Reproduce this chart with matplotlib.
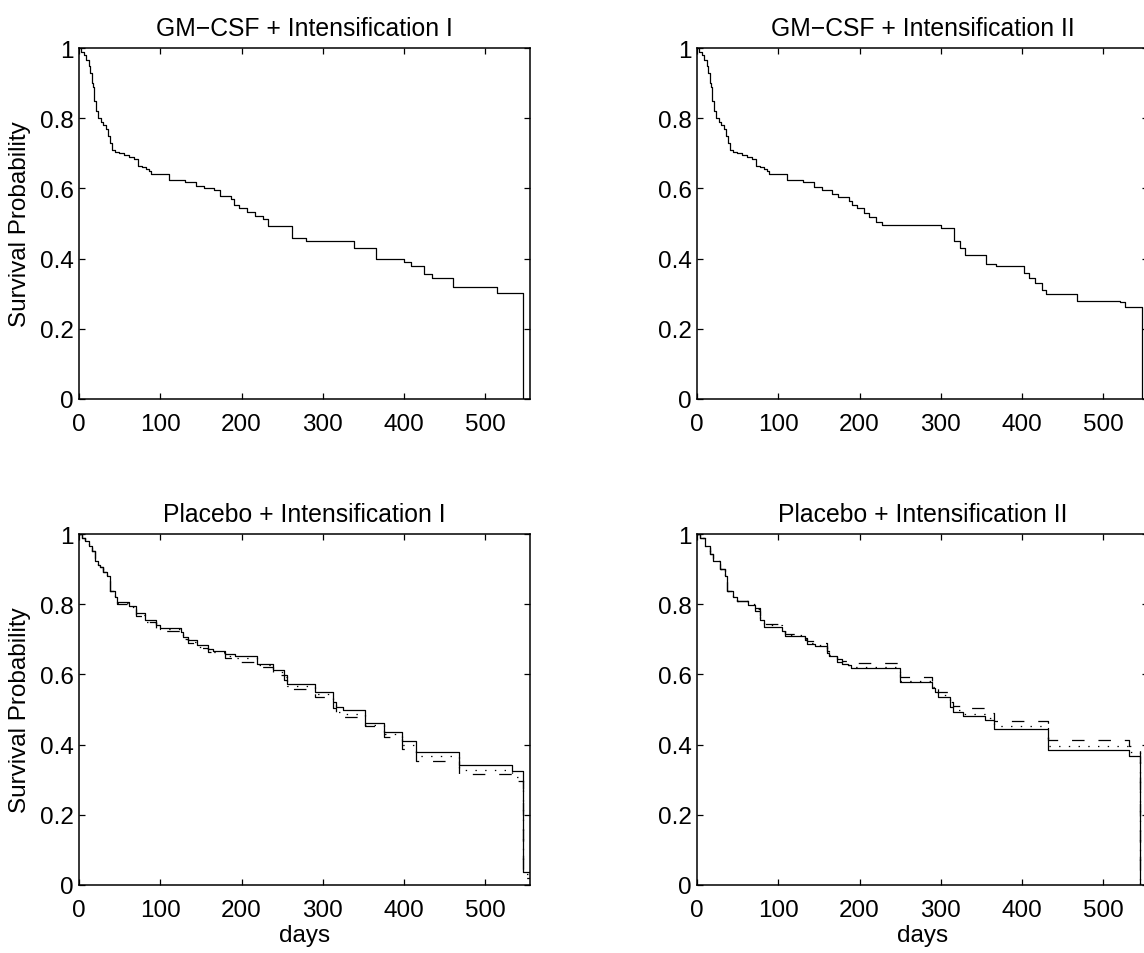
import matplotlib.pyplot as plt

plt.rcParams['font.family'] = ['Liberation Sans', 'DejaVu Sans']
plt.rcParams['lines.scale_dashes'] = False

# GM-CSF + Intensification I
t_gm1 = [0, 3, 6, 9, 12, 14, 16, 17, 18.5, 20.5, 23, 27, 30, 33, 36, 38, 41, 44, 49, 55, 62, 68, 72,
         78, 82, 86, 88, 111, 131, 144, 154, 166, 174, 187, 191, 197, 207, 217, 226, 232, 262, 279,
         339, 365, 400, 408, 425, 435, 460, 515, 547, 555]
s_gm1 = [1.0, 0.99, 0.98, 0.965, 0.95, 0.93, 0.90, 0.89, 0.85, 0.82, 0.80, 0.79, 0.78, 0.77, 0.75,
         0.73, 0.71, 0.705, 0.70, 0.695, 0.69, 0.685, 0.665, 0.66, 0.655, 0.65, 0.64, 0.625, 0.617,
         0.608, 0.60, 0.595, 0.578, 0.57, 0.552, 0.543, 0.534, 0.522, 0.513, 0.494, 0.459, 0.45,
         0.429, 0.40, 0.389, 0.378, 0.356, 0.344, 0.318, 0.303, 0.0, 0.0]

# GM-CSF + Intensification II
t_gm2 = [0, 3, 6, 9, 12, 14, 16, 17, 18.5, 20.5, 23, 27, 30, 33, 36, 38, 41, 44, 49, 55, 62, 68, 72,
         78, 82, 86, 88, 111, 131, 144, 154, 166, 174, 187, 191, 197, 205, 212, 220, 228, 300, 316,
         324, 330, 356, 368, 402, 408, 416, 424, 430, 468, 520, 527, 548, 555]
s_gm2 = [1.0, 0.99, 0.98, 0.965, 0.95, 0.93, 0.90, 0.89, 0.85, 0.82, 0.80, 0.79, 0.78, 0.77, 0.75,
         0.73, 0.71, 0.705, 0.70, 0.695, 0.69, 0.685, 0.665, 0.66, 0.655, 0.65, 0.64, 0.625, 0.617,
         0.605, 0.595, 0.585, 0.575, 0.565, 0.552, 0.543, 0.53, 0.518, 0.505, 0.495, 0.488, 0.45,
         0.43, 0.41, 0.385, 0.38, 0.36, 0.345, 0.33, 0.31, 0.30, 0.28, 0.275, 0.262, 0.0, 0.0]

# Placebo + Intensification I (solid, dotted, dashed)
t_pl1 = [0, 4, 7.4, 12, 15.6, 19.7, 23, 25.9, 30, 34, 38, 44, 47, 62, 70, 81, 95, 100, 126, 128,
         134, 145, 159, 165, 180, 192, 219, 239, 252, 256, 291, 313, 316, 325, 352, 375, 397, 415,
         468, 533, 546, 555]
s_pl1_a = [1.0, 0.99, 0.98, 0.965, 0.952, 0.924, 0.912, 0.905, 0.893, 0.881, 0.839, 0.82, 0.806,
           0.795, 0.775, 0.754, 0.74, 0.731, 0.72, 0.706, 0.697, 0.683, 0.673, 0.667, 0.657, 0.652,
           0.631, 0.612, 0.598, 0.574, 0.55, 0.522, 0.508, 0.499, 0.462, 0.437, 0.409, 0.38, 0.343,
           0.326, 0.037, 0.037]
s_pl1_b = [1.0, 0.99, 0.98, 0.965, 0.952, 0.924, 0.912, 0.905, 0.893, 0.881, 0.839, 0.82, 0.803,
           0.792, 0.77, 0.75, 0.735, 0.728, 0.715, 0.703, 0.693, 0.679, 0.669, 0.663, 0.652, 0.648,
           0.626, 0.606, 0.593, 0.567, 0.543, 0.512, 0.494, 0.486, 0.456, 0.43, 0.40, 0.367, 0.327,
           0.308, 0.03, 0.03]
s_pl1_c = [1.0, 0.99, 0.98, 0.965, 0.952, 0.924, 0.912, 0.905, 0.893, 0.881, 0.839, 0.82, 0.80,
           0.79, 0.765, 0.748, 0.73, 0.725, 0.712, 0.70, 0.69, 0.675, 0.665, 0.66, 0.648, 0.636,
           0.62, 0.598, 0.585, 0.557, 0.536, 0.505, 0.49, 0.48, 0.452, 0.422, 0.387, 0.354, 0.315,
           0.296, 0.02, 0.02]

# Placebo + Intensification II (solid, dotted, dashed)
t_pl2 = [0, 3.7, 10, 16, 20, 28, 34, 36.6, 44.7, 49, 63, 71, 78, 82, 104, 108, 133, 135, 145, 160,
         163, 172, 178, 186, 190, 250, 289, 293, 296, 311, 315, 327, 355, 366, 432, 532, 545, 555]
s_pl2_a = [1.0, 0.99, 0.966, 0.943, 0.923, 0.90, 0.881, 0.839, 0.82, 0.81, 0.799, 0.782, 0.754,
           0.735, 0.725, 0.709, 0.697, 0.688, 0.681, 0.66, 0.652, 0.636, 0.631, 0.626, 0.617, 0.577,
           0.56, 0.55, 0.536, 0.508, 0.494, 0.481, 0.47, 0.444, 0.385, 0.368, 0.0, 0.0]
s_pl2_b = [1.0, 0.99, 0.966, 0.943, 0.923, 0.90, 0.881, 0.839, 0.82, 0.81, 0.80, 0.785, 0.757,
           0.74, 0.73, 0.712, 0.70, 0.69, 0.684, 0.663, 0.655, 0.64, 0.633, 0.628, 0.62, 0.58,
           0.565, 0.555, 0.54, 0.51, 0.498, 0.486, 0.475, 0.453, 0.397, 0.38, 0.0, 0.0]
s_pl2_c = [1.0, 0.99, 0.966, 0.943, 0.923, 0.90, 0.881, 0.839, 0.82, 0.81, 0.805, 0.79, 0.76,
           0.745, 0.735, 0.715, 0.705, 0.695, 0.69, 0.667, 0.66, 0.645, 0.637, 0.634, 0.632, 0.593,
           0.575, 0.562, 0.55, 0.52, 0.51, 0.503, 0.49, 0.468, 0.412, 0.395, 0.0, 0.0]

titles = ['GM\u2212CSF + Intensification I', 'GM\u2212CSF + Intensification II',
          'Placebo + Intensification I', 'Placebo + Intensification II']

x_ticks = [0, 100, 200, 300, 400, 500]
y_ticks = [0, 0.2, 0.4, 0.6, 0.8, 1]
y_labels = ['0', '0.2', '0.4', '0.6', '0.8', '1']

solid = '-'
dotted = (0, (1, 6))
dashed = (0, (9, 10))

fig = plt.figure(figsize=(11.44, 9.54), dpi=100)

W, H = 451 / 1144, 351 / 954
pos = [[79 / 1144, 1 - 400 / 954, W, H], [697 / 1144, 1 - 400 / 954, W, H],
       [79 / 1144, 1 - 886 / 954, W, H], [697 / 1144, 1 - 886 / 954, W, H]]

curves = [
    [(t_gm1, s_gm1, solid)],
    [(t_gm2, s_gm2, solid)],
    [(t_pl1, s_pl1_a, solid), (t_pl1, s_pl1_b, dotted), (t_pl1, s_pl1_c, dashed)],
    [(t_pl2, s_pl2_a, solid), (t_pl2, s_pl2_b, dotted), (t_pl2, s_pl2_c, dashed)],
]

for i in range(4):
    ax = fig.add_axes(pos[i])
    for t, s, ls in curves[i]:
        ax.step(t, s, where='post', color='black', linewidth=0.9, linestyle=ls)
    ax.set_xlim(0, 555)
    ax.set_ylim(0, 1)
    ax.set_xticks(x_ticks)
    ax.set_yticks(y_ticks)
    ax.set_yticklabels(y_labels)
    ax.tick_params(direction='in', length=4, width=0.9, top=True, right=True, labelsize=17.5)
    ax.tick_params(axis='x', pad=10)
    ax.tick_params(axis='y', pad=4)
    for sp in ax.spines.values():
        sp.set_linewidth(1.1)
    ax.set_title(titles[i], fontsize=17.8, pad=9)
    if i % 2 == 0:
        ax.set_ylabel('Survival Probability', fontsize=17.5, labelpad=6)
    if i >= 2:
        ax.set_xlabel('days', fontsize=17.5, labelpad=2)

fig.savefig('out.png', dpi=100)
